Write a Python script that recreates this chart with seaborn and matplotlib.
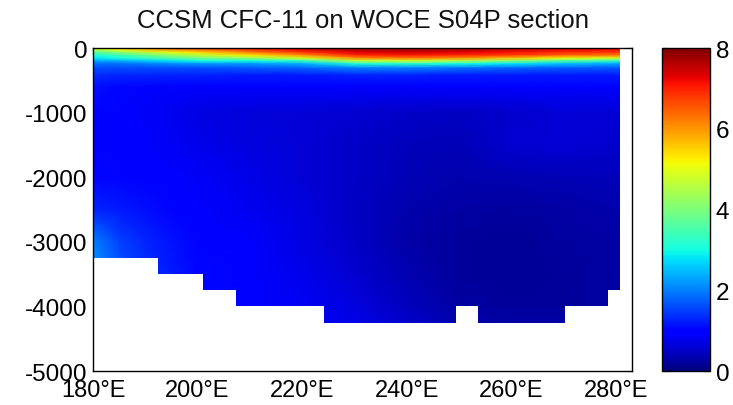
import numpy as np
import matplotlib
matplotlib.use("Agg")
import matplotlib.pyplot as plt
import seaborn as sns

# ---------------- data ----------------
title = "CCSM CFC-11 on WOCE S04P section"

# section longitudes (degrees E) of the profiles
lons = [180, 185, 190, 195, 200, 210, 220, 230, 240, 250, 260, 270, 280.8]
# depths of the levels (m, positive down)
depths = [0, 30, 70, 115, 160, 200, 245, 310, 420, 600, 1000, 1500,
          2000, 2500, 3000, 3500, 4000, 4250]

# CFC-11 (pmol/kg), one row per depth level, one column per longitude
cfc11 = [
    # 180  185  190  195  200  210  220  230  240  250  260  270  280.8
    [5.3, 5.7, 6.1, 6.4, 6.6, 7.0, 7.4, 7.7, 7.8, 7.7, 7.5, 7.3, 7.2],   # 0
    [4.4, 5.1, 5.6, 6.0, 6.3, 6.8, 7.2, 7.6, 7.7, 7.6, 7.4, 7.2, 7.1],   # 30
    [3.6, 4.1, 4.6, 5.0, 5.4, 6.2, 6.8, 7.3, 7.4, 7.3, 7.1, 6.9, 6.8],   # 70
    [3.1, 3.4, 3.8, 4.2, 4.6, 5.3, 6.0, 6.9, 7.0, 6.9, 6.7, 6.4, 6.2],   # 115
    [2.8, 3.0, 3.3, 3.6, 3.9, 4.2, 4.9, 6.0, 6.2, 6.0, 5.6, 5.1, 4.8],   # 160
    [2.3, 2.4, 2.6, 2.8, 3.0, 3.0, 3.3, 4.6, 4.8, 4.5, 4.1, 3.6, 3.3],   # 200
    [1.9, 1.9, 2.0, 2.1, 2.2, 2.2, 2.4, 3.1, 3.2, 3.0, 2.8, 2.5, 2.3],   # 245
    [1.6, 1.6, 1.6, 1.6, 1.6, 1.7, 1.8, 2.0, 2.0, 1.9, 1.8, 1.7, 1.7],   # 310
    [1.35, 1.3, 1.3, 1.25, 1.25, 1.2, 1.2, 1.25, 1.25, 1.2, 1.2, 1.2, 1.2],       # 420
    [1.1, 1.05, 1.0, 0.95, 0.95, 0.9, 0.9, 0.9, 0.9, 0.9, 0.9, 0.9, 0.9],         # 600
    [0.95, 0.9, 0.85, 0.8, 0.7, 0.65, 0.62, 0.58, 0.52, 0.48, 0.55, 0.62, 0.62],  # 1000
    [0.95, 0.92, 0.88, 0.82, 0.75, 0.66, 0.6, 0.52, 0.42, 0.38, 0.58, 0.6, 0.55], # 1500
    [1.05, 1.0, 0.95, 0.9, 0.85, 0.72, 0.62, 0.52, 0.4, 0.32, 0.35, 0.4, 0.42],   # 2000
    [1.3, 1.2, 1.1, 1.02, 0.95, 0.8, 0.66, 0.48, 0.32, 0.25, 0.24, 0.28, 0.32],   # 2500
    [2.0, 1.5, 1.3, 1.15, 1.02, 0.88, 0.7, 0.5, 0.3, 0.2, 0.18, 0.22, 0.26],      # 3000
    [2.2, 1.7, 1.4, 1.2, 1.05, 0.92, 0.78, 0.58, 0.35, 0.2, 0.18, 0.2, 0.25],     # 3500
    [2.2, 1.7, 1.4, 1.2, 1.05, 0.92, 0.82, 0.68, 0.45, 0.25, 0.2, 0.2, 0.25],     # 4000
    [2.2, 1.7, 1.4, 1.2, 1.05, 0.92, 0.82, 0.72, 0.55, 0.32, 0.25, 0.25, 0.25],   # 4250
]

# sea floor along the section: step edges (deg E) and floor depth (m)
floor_lon_edges = [180, 192.4, 201.0, 207.3, 224.2, 249.4, 253.6, 270.2, 278.5, 280.8]
floor_depth = [3250, 3500, 3750, 4000, 4250, 4000, 4250, 4000, 3750]

x_ticks = [180, 200, 220, 240, 260, 280]
x_tick_labels = ["180°E", "200°E", "220°E", "240°E", "260°E", "280°E"]
y_ticks = [0, -1000, -2000, -3000, -4000, -5000]
y_tick_labels = ["0", "-1000", "-2000", "-3000", "-4000", "-5000"]
cbar_ticks = [0, 2, 4, 6, 8]
cbar_tick_labels = ["0", "2", "4", "6", "8"]
x_limits = (180, 283.1)
y_limits = (-5000, 0)
value_limits = (0, 8)

# ---------------- plotting ----------------
sns.set_theme(style="white")
plt.rcParams["font.family"] = ["Liberation Sans", "DejaVu Sans"]

fig = plt.figure(figsize=(7.33, 4.06), dpi=100)
ax = fig.add_axes([0.1269, 0.0837, 0.7353, 0.7956])

LON, DEP = np.meshgrid(np.array(lons), -np.array(depths))
mesh = ax.pcolormesh(LON, DEP, np.array(cfc11), cmap="jet",
                     vmin=value_limits[0], vmax=value_limits[1],
                     shading="gouraud", rasterized=True)

# blank out the sea floor
fe = np.array(floor_lon_edges)
fd = -np.array(floor_depth + [floor_depth[-1]])
ax.fill_between(fe, fd, y_limits[0], step="post", color="white", lw=0, zorder=3)
ax.axvspan(lons[-1], x_limits[1], color="white", lw=0, zorder=3)

ax.set_xlim(*x_limits)
ax.set_ylim(*y_limits)
ax.set_xticks(x_ticks)
ax.set_xticklabels(x_tick_labels)
ax.set_yticks(y_ticks)
ax.set_yticklabels(y_tick_labels)
ax.tick_params(direction="in", length=5, width=0.8, labelsize=17.5,
               top=True, right=True, colors="black", pad=4)
ax.tick_params(axis="x", pad=6, labelsize=17)
for s in ax.spines.values():
    s.set_visible(True)
    s.set_color("black")
    s.set_linewidth(1.0)
    s.set_zorder(5)
ax.set_title(title, fontsize=18.5, pad=15, color="#111111")

cax = fig.add_axes([0.9031, 0.0837, 0.0655, 0.7956])
cb = fig.colorbar(mesh, cax=cax, ticks=cbar_ticks)
cb.ax.set_yticklabels(cbar_tick_labels)
cb.ax.tick_params(direction="in", length=5, width=0.8, labelsize=17.5,
                  colors="black", left=True, right=True, pad=4)
cb.outline.set_edgecolor("black")
cb.outline.set_linewidth(1.0)

fig.savefig("out.png", dpi=100)
